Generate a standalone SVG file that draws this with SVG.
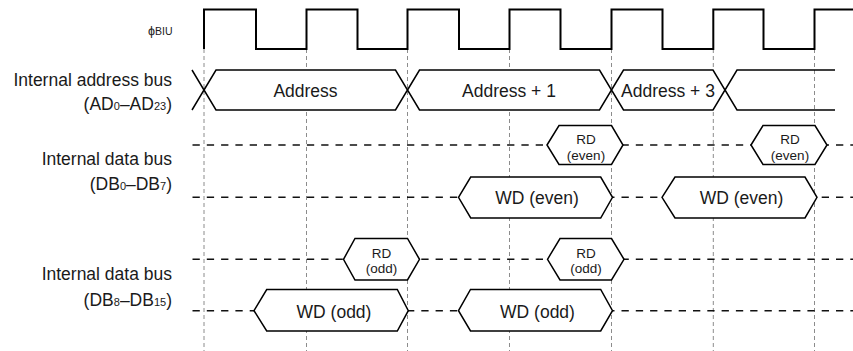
<svg xmlns="http://www.w3.org/2000/svg" width="853" height="351" viewBox="0 0 853 351">
<style>
text{font-family:"Liberation Sans",Arial,sans-serif;fill:#1a1a1a}
.lbl{font-size:17.5px;text-anchor:end}
.big{font-size:17.5px;text-anchor:middle}
.sm{font-size:13.5px;text-anchor:middle}
.sub{font-size:11px}
.grid{stroke:#8c8c8c;stroke-width:1;stroke-dasharray:4 3;fill:none}
.hz{stroke:#111;stroke-width:1.5;stroke-dasharray:7.3 7;fill:none}
.clk{stroke:#000;stroke-width:2;fill:none}
.box{stroke:#000;stroke-width:1.5;fill:#fff;stroke-linejoin:miter}
.ln{stroke:#000;stroke-width:1.5;fill:none}
</style>
<rect width="853" height="351" fill="#fff"/>
<g id="labels">
<text x="172.5" y="34.5" font-size="10.5" text-anchor="end"><tspan font-size="12.5">ϕ</tspan>BIU</text>
<text class="lbl" x="172" y="85.5">Internal address bus</text>
<text class="lbl" x="172" y="109.5">(AD<tspan class="sub">0</tspan>–AD<tspan class="sub">23</tspan>)</text>
<text class="lbl" x="172" y="165">Internal data bus</text>
<text class="lbl" x="172" y="189.5">(DB<tspan class="sub">0</tspan>–DB<tspan class="sub">7</tspan>)</text>
<text class="lbl" x="172" y="280">Internal data bus</text>
<text class="lbl" x="172" y="306">(DB<tspan class="sub">8</tspan>–DB<tspan class="sub">15</tspan>)</text>
</g>
<g id="connectors">
<g id="grid">
<line class="grid" x1="204" y1="49" x2="204" y2="351"/>
<line class="grid" x1="306.5" y1="49" x2="306.5" y2="351"/>
<line class="grid" x1="407.5" y1="49" x2="407.5" y2="351"/>
<line class="grid" x1="509.5" y1="49" x2="509.5" y2="351"/>
<line class="grid" x1="611.5" y1="49" x2="611.5" y2="351"/>
<line class="grid" x1="713.3" y1="49" x2="713.3" y2="351"/>
<line class="grid" x1="814.5" y1="49" x2="814.5" y2="351"/>
</g>
<line class="hz" x1="192.5" y1="145" x2="853" y2="145"/>
<line class="hz" x1="192.5" y1="197.3" x2="853" y2="197.3"/>
<line class="hz" x1="192.5" y1="259.3" x2="853" y2="259.3"/>
<line class="hz" x1="192.5" y1="310.7" x2="853" y2="310.7"/>
<path id="clock" class="clk" d="M204,49 V9.5 H256 V49 H306.5 V9.5 H357.5 V49 H407.5 V9.5 H459 V49 H509.5 V9.5 H560.5 V49 H611.5 V9.5 H662.5 V49 H713.3 V9.5 H763.5 V49 H814.5 V9.5 H853"/>
<path class="ln" d="M192,70 L204,90 L192,110"/>
<path class="ln" d="M835,70 H737 L725,90 L737,110 H835"/>
</g>
<g id="addr1">
<polygon class="box" points="204,90 216,70 395.5,70 407.5,90 395.5,110 216,110"/>
<text class="big" x="305.5" y="96.5">Address</text>
</g>
<g id="addr2">
<polygon class="box" points="407.5,90 419.5,70 599.5,70 611.5,90 599.5,110 419.5,110"/>
<text class="big" x="509" y="96.5">Address + 1</text>
</g>
<g id="addr3">
<polygon class="box" points="611.5,90 623.5,70 713,70 725,90 713,110 623.5,110"/>
<text class="big" x="668" y="96.5">Address + 3</text>
</g>
<g id="rd-even-1">
<polygon class="box" points="547,145 559,125.5 611.5,125.5 623,145 611.5,164.5 559,164.5"/>
<text class="sm" x="586" y="144">RD</text>
<text class="sm" x="586" y="159.5">(even)</text>
</g>
<g id="rd-even-2">
<polygon class="box" points="751,145 763,125.5 815,125.5 827,145 815,164.5 763,164.5"/>
<text class="sm" x="790" y="144">RD</text>
<text class="sm" x="790" y="159.5">(even)</text>
</g>
<g id="wd-even-1">
<polygon class="box" points="458.5,197.3 470.7,177 600.7,177 612.5,197.3 600.7,218 470.7,218"/>
<text class="big" x="537" y="204">WD (even)</text>
</g>
<g id="wd-even-2">
<polygon class="box" points="662,197.3 675,177 805,177 817,197.3 805,218 675,218"/>
<text class="big" x="741.5" y="204">WD (even)</text>
</g>
<g id="rd-odd-1">
<polygon class="box" points="343.5,259.3 355,238.5 407.5,238.5 419.5,259.3 407.5,280 355,280"/>
<text class="sm" x="381.5" y="258">RD</text>
<text class="sm" x="381.5" y="273">(odd)</text>
</g>
<g id="rd-odd-2">
<polygon class="box" points="547.5,259.3 560,238.5 611.5,238.5 624,259.3 611.5,280 560,280"/>
<text class="sm" x="586" y="258">RD</text>
<text class="sm" x="586" y="273">(odd)</text>
</g>
<g id="wd-odd-1">
<polygon class="box" points="254,310.7 266.7,289.5 397.3,289.5 408.3,310.7 397.3,331 266.7,331"/>
<text class="big" x="334" y="317.5">WD (odd)</text>
</g>
<g id="wd-odd-2">
<polygon class="box" points="458.5,310.7 470.5,289.5 600.7,289.5 612.5,310.7 600.7,331 470.5,331"/>
<text class="big" x="537.5" y="317.5">WD (odd)</text>
</g>
</svg>
